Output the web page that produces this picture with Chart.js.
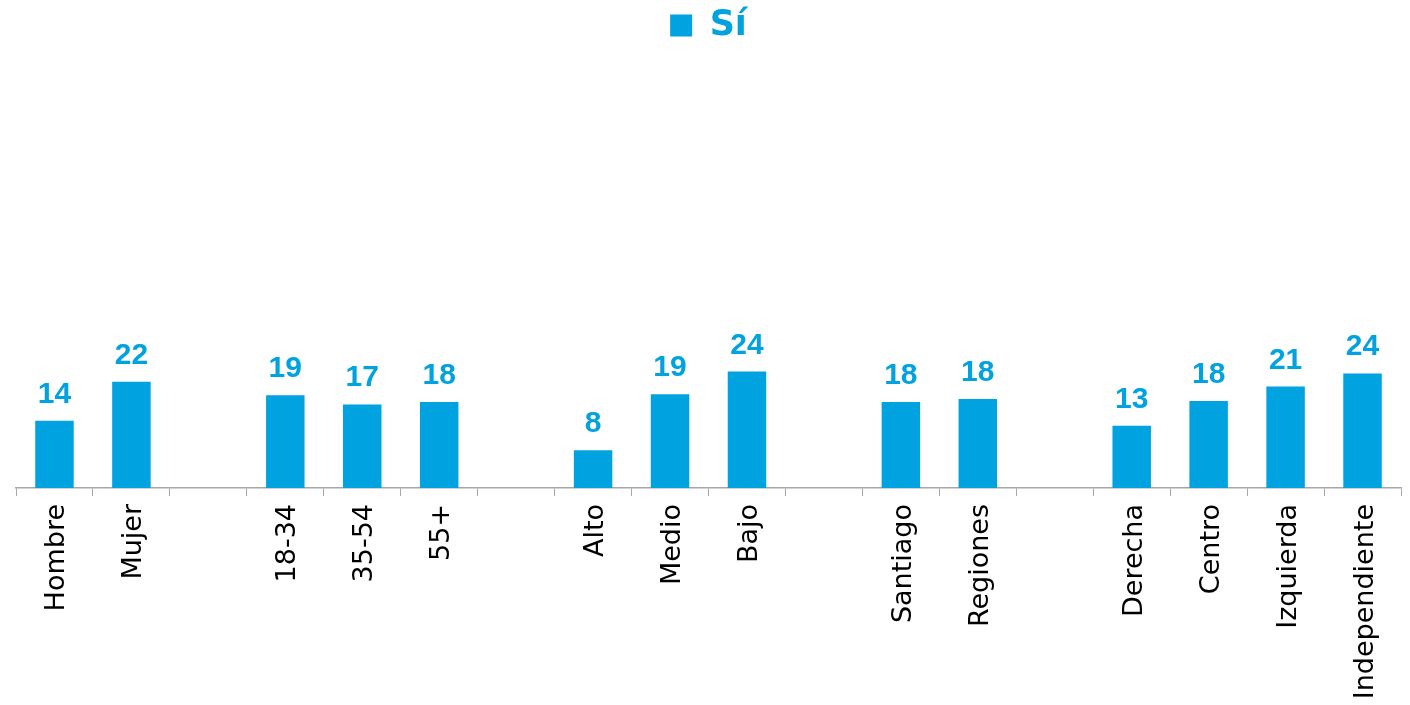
<!DOCTYPE html>
<html>
<head>
<meta charset="utf-8">
<script src="https://cdn.jsdelivr.net/npm/chart.js@4.4.1/dist/chart.umd.min.js"></script>
<style>
  html, body { margin: 0; padding: 0; background: #ffffff; }
  #wrap { width: 1410px; height: 705px; position: relative; }
</style>
</head>
<body>
<div id="wrap"><canvas id="myChart"></canvas></div>
<script>
const categories = ['Hombre', 'Mujer', '', '18-34', '35-54', '55+', '', 'Alto', 'Medio', 'Bajo', '', 'Santiago', 'Regiones', '', 'Derecha', 'Centro', 'Izquierda', 'Independiente'];
const siValues = [13.9, 22.0, null, 19.2, 17.3, 17.8, null, 7.8, 19.4, 24.1, null, 17.8, 18.4, null, 12.9, 18.0, 21.0, 23.7];
const seriesName = 'Sí';
const blue = '#00A2DF';
const axisGray = '#A6A6A6';

// draws the value above each bar
const valueLabels = {
    id: 'valueLabels',
    afterDatasetsDraw(chart) {
        const c = chart.ctx;
        const meta = chart.getDatasetMeta(0);
        c.save();
        c.fillStyle = blue;
        c.font = 'bold 30px "Liberation Sans", Arial, sans-serif';
        c.textAlign = 'center';
        c.textBaseline = 'alphabetic';
        meta.data.forEach((bar, i) => {
            const v = siValues[i];
            if (v === null) return;
            c.fillText(String(Math.round(v)), bar.x, bar.y - 18);
        });
        c.restore();
    }
};

const ctx = document.getElementById('myChart');

new Chart(ctx, {
    type: 'bar',
    data: {
        labels: categories,
        datasets: [{
            label: seriesName,
            data: siValues,
            backgroundColor: blue,
            borderWidth: 0,
            categoryPercentage: 1.0,
            barPercentage: 0.5
        }]
    },
    options: {
        responsive: true,
        maintainAspectRatio: false,
        animation: false,
        layout: { padding: { left: 16, right: 9, top: 2, bottom: 0 } },
        plugins: {
            legend: {
                position: 'top',
                labels: {
                    boxWidth: 22,
                    boxHeight: 22,
                    padding: 6,
                    color: blue,
                    font: { family: '"DejaVu Sans", sans-serif', size: 35, weight: 'bold' }
                }
            },
            tooltip: { enabled: false }
        },
        scales: {
            x: {
                offset: true,
                grid: {
                    offset: true,
                    drawOnChartArea: false,
                    drawTicks: true,
                    tickLength: 8,
                    color: axisGray
                },
                border: { display: true, color: axisGray, width: 1.5 },
                ticks: {
                    autoSkip: false,
                    minRotation: 90,
                    maxRotation: 90,
                    padding: 8,
                    labelOffset: 3,
                    color: '#000000',
                    font: { family: '"DejaVu Sans", sans-serif', size: 27 }
                },
                afterFit(scale) {
                    scale.height = 217;
                }
            },
            y: {
                display: false,
                min: 0,
                max: 90
            }
        }
    },
    plugins: [valueLabels]
});
</script>
</body>
</html>
